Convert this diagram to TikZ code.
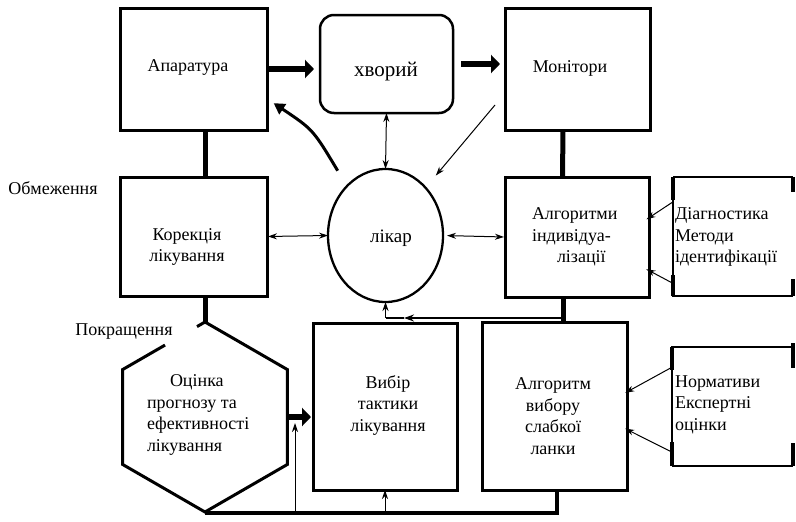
\documentclass[tikz,border=0pt]{standalone}
\usepackage{fontspec}
\setmainfont{Liberation Serif}
\usetikzlibrary{arrows.meta,shapes.geometric,calc}
\begin{document}
\begin{tikzpicture}[x=1pt,y=-1pt,
  every node/.style={font=\fontsize{18}{21.5}\selectfont, inner sep=0pt, outer sep=0pt},
  blk/.style={draw, line width=3pt},
  blkline/.style={line width=3pt, line join=miter},
  conn/.style={line width=5pt},
  midline/.style={line width=2pt},
  botline/.style={line width=3.5pt},
  fat/.style={line width=6pt, -{Triangle[length=9pt,width=18pt]}},
  tarrow/.style={line width=1pt, -{Stealth[length=9pt,width=6pt]}},
  tdbl/.style={line width=1pt, {Stealth[length=9pt,width=6pt]}-{Stealth[length=9pt,width=6pt]}},
  thinedge/.style={line width=1.3pt},
  thickedge/.style={line width=2.6pt},
  cornermark/.style={line width=3.5pt}
]
\fill[white] (0,0) rectangle (796,522);
\useasboundingbox (0,0) rectangle (796,522);

% boxes
\node[blk, minimum width=147, minimum height=122] (ap) at (193.5,69) {};
\node[draw, line width=2.5pt, rounded corners=14pt, minimum width=133, minimum height=98] (khv) at (386.5,64) {};
\node[blk, minimum width=145, minimum height=122] (mon) at (577.5,69) {};
\node[blk, minimum width=147, minimum height=119] (kor) at (193.5,236.5) {};
\node[draw, ellipse, line width=2.3pt, minimum width=115, minimum height=133] (lik) at (385.5,235.5) {};
\node[blk, minimum width=144, minimum height=120] (alg) at (577,237) {};
\node[minimum width=120, minimum height=119] (diag) at (733,236.5) {};
\node[regular polygon, regular polygon sides=6, regular polygon rotate=30, minimum size=190] (hex) at (205,417) {};
\node[blk, minimum width=144, minimum height=167] (vyb) at (385,406.5) {};
\node[blk, minimum width=145, minimum height=168] (alg2) at (554.5,406) {};
\node[minimum width=121, minimum height=119] (norm) at (732.5,406.5) {};

% hexagon outline with gap
\draw[blkline] ($(hex.150)!0.514!(hex.90)$) -- (hex.150) -- (hex.210) -- (hex.270) -- (hex.330) -- (hex.30) -- (hex.90) -- ($(hex.150)!0.903!(hex.90)$);

% diag box outline
\draw[thinedge] (diag.north west) -- (diag.south west) -- (diag.south east);
\draw[thickedge] (diag.north west) -- (diag.north east);
\draw[cornermark] (diag.north west) -- ++(0,23);
\draw[cornermark] (diag.south west) -- ++(0,-21);
\draw[cornermark] (diag.north east) -- ++(0,15);
\draw[cornermark] (diag.south east) -- ++(0,-17);

% norm box outline
\draw[thinedge] (norm.north east) -- (norm.north west) -- (norm.south west);
\draw[thickedge] (norm.south west) -- (norm.south east);
\draw[cornermark] (norm.north west) -- ++(0,23);
\draw[cornermark] (norm.south west) -- ++(0,-24);
\draw[cornermark] ([yshift=4pt]norm.north east) -- ++(0,25);
\draw[cornermark] (norm.south east) -- ++(0,-23);

% texts
\node (t-ap) at (188,68) {Апаратура};
\node (t-khv) [font=\fontsize{21}{25}\selectfont] at (386,72) {хворий};
\node (t-mon) at (570,68) {Монітори};
\node (t-kor) [align=center] at (187,247) {Корекція\\лікування};
\node (t-lik) [font=\fontsize{19}{23}\selectfont] at (391,238) {лікар};
\node (t-alg) [align=left, anchor=west] at (532,237) {Алгоритми\\індивідуа-\\\hspace*{25pt}лізації};
\node (t-diag) [align=left, anchor=west] at (675,237) {Діагностика\\Методи\\ідентифікації};
\node (t-hex) [align=left, anchor=west] at (147,415) {\hspace*{23pt}Оцінка\\прогнозу та\\ефективності\\лікування};
\node (t-vyb) [align=center] at (388,405) {Вибір\\тактики\\лікування};
\node (t-alg2) [align=center] at (553,416) {Алгоритм\\вибору\\слабкої\\ланки};
\node (t-norm) [align=left, anchor=west] at (675,404.5) {Нормативи\\Експертні\\оцінки};
\node (t-obm) at (53,188) {Обмеження};
\node (t-pokr) at (124,332) {Покращення};

% coordinates
\coordinate (m1) at (495,105);
\coordinate (j1) at (563,318);
\coordinate (jm) at (404,318);
\coordinate (j0) at (385.5,318);
\coordinate (b1) at (557,513);
\coordinate (b2) at (295,513);
\coordinate (ha) at (295,423);

% thick connectors
\draw[fat, shorten >=6pt] (ap.east) -- (khv.west |- ap.east);
\draw[fat, shorten <=8pt, shorten >=5pt] (khv.east) -- (mon.west |- khv.east);
\draw[conn] ([xshift=11.5pt]ap.south) -- ([xshift=11.5pt]kor.north);
\draw[conn] ([xshift=11.5pt]kor.south) -- (hex.90);
\draw[conn] ([xshift=-14.5pt]mon.south) -- ([xshift=-14.5pt]alg.north);
\draw[conn] ([xshift=-14pt]alg.south) -- (alg2.north -| j1);
\draw[fat, shorten >=2pt] (hex.0) -- (vyb.west |- hex.0);

% curved arrow from doctor to apparatus
\draw[line width=3pt, -{Triangle[length=11pt,width=12pt]}, shorten <=18pt, shorten >=8pt] (lik.128) .. controls (313,129.5) .. (ap.-22);

% thin arrows
\draw[tdbl] (khv.south) -- (lik.north);
\draw[tarrow, shorten >=16pt] (m1) -- (lik.50);
\draw[tdbl, shorten <=1pt] (kor.east) -- (lik.west);
\draw[tdbl, shorten <=4pt, shorten >=1pt] (lik.east) -- (alg.west);
\draw[tarrow, shorten >=-3pt] (diag.150) -- (alg.15);
\draw[tarrow, shorten >=-3pt] (diag.218) -- (alg.-25);
\draw[tarrow, shorten >=-2pt] (norm.147) -- (alg2.11);
\draw[tarrow, shorten >=-2pt] (norm.217) -- (alg2.-18);

% loop below doctor
\draw[midline, -{Stealth[length=10pt,width=7pt]}] (j1) -- (jm);
\draw[midline] (jm) -- (j0);
\draw[tarrow] (j0) -- (lik.south);

% bottom loop
\draw[botline] ([xshift=2.5pt]alg2.south) -- (b1) -- (hex.270 |- b1);
\draw[tarrow] (vyb.south |- b1) -- (vyb.south);
\draw[tarrow] (b2) -- (ha);
\end{tikzpicture}
\end{document}
